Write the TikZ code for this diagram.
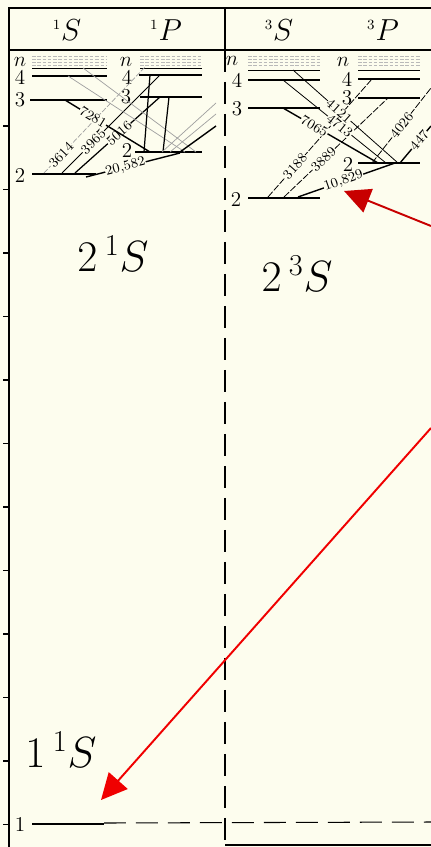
\documentclass[tikz,border=0pt]{standalone}
\usetikzlibrary{arrows.meta}
\definecolor{paper}{RGB}{253,253,238}
\definecolor{darkred}{RGB}{200,0,0}
\definecolor{hotred}{RGB}{240,0,0}

\begin{document}
\begin{tikzpicture}[x=0.02cm, y=-0.02cm,
  lev/.style={line width=1.6pt},
  midlev/.style={line width=0.9pt},
  thinlev/.style={line width=0.5pt},
  limit/.style={gray!55, line width=0.4pt, dash pattern=on 2pt off 1pt},
  trans/.style={line width=0.45pt},
  faint/.style={gray!75, line width=0.4pt},
  wl/.style={font=\fontsize{7.8}{7.8}\selectfont, fill=paper, inner sep=0.3pt, sloped},
  num/.style={font=\fontsize{12}{12}\selectfont, inner sep=0pt},
  head/.style={font=\fontsize{16}{16}\selectfont, inner sep=0pt},
  big/.style={font=\fontsize{33}{33}\selectfont, inner sep=0pt},
  pointer/.style={draw=#1, line width=1.1pt, -{Triangle[length=0.52cm, width=0.5cm, fill=#1]}}]

\useasboundingbox (0,0) rectangle (431,847);
\fill[paper] (0,0) rectangle (431,847);
\clip (0,0) rectangle (431,847);

% frame and columns
\draw[line width=0.8pt] (9,847) -- (9,8) -- (431,8);
\draw[line width=1.2pt] (9,50) -- (431,50);
\draw[line width=0.8pt] (225,8) -- (225,50);
\draw[line width=0.7pt, dash pattern=on 0.44cm off 0.2cm] (225,50) -- (225,847);
\draw[line width=1.2pt] (225,845) -- (431,845);
\foreach \k in {0,...,11}
  \draw[line width=0.6pt] (3,{126+63.5*\k}) -- (9,{126+63.5*\k});

% headings
\node[head] (hsS) at (67,30) {${}^{\scriptscriptstyle 1}S$};
\node[head] (hsP) at (166,30) {${}^{\scriptscriptstyle 1}P$};
\node[head] (htS) at (279,30) {${}^{\scriptscriptstyle 3}S$};
\node[head] (htP) at (383,30) {${}^{\scriptscriptstyle 3}P$};

% series limits
\foreach \xa/\xb in {32/107,140/202,248/320,358/420}
  \foreach \y in {56,59,62,65}
    \draw[limit] (\xa,\y) -- (\xb,\y);

% singlet levels
\node[num] (sSn) at (20,62) {$n$};
\node[num] (sS4) at (20,77) {4};
\node[num] (sS3) at (20,100) {3};
\node[num] (sS2) at (20,175) {2};
\node[num] (sS1) at (20,824) {1};
\draw[thinlev] (32,68) -- (107,68);
\draw[midlev] (32,76) -- (107,76);
\draw[lev] (30,100) -- (107,100);
\draw[lev] (32,174) -- (96,174);
\draw[lev] (32,824) -- (104,824);
\draw[line width=0.6pt, dash pattern=on 0.44cm off 0.2cm] (104,823) -- (431,822);

\node[num] (sPn) at (126,62) {$n$};
\node[num] (sP4) at (127,77) {4};
\node[num] (sP3) at (126,97) {3};
\node[num] (sP2) at (127,150) {2};
\draw[thinlev] (140,68) -- (202,68);
\draw[midlev] (139,75) -- (202,75);
\draw[lev] (140,97) -- (202,97);
\draw[lev] (135,152) -- (202,152);

% triplet levels
\node[num] (tSn) at (232,61) {$n$};
\node[num] (tS4) at (237,80) {4};
\node[num] (tS3) at (237,109) {3};
\node[num] (tS2) at (236,199) {2};
\draw[thinlev] (248,70) -- (320,70);
\draw[midlev] (248,80) -- (320,80);
\draw[lev] (248,108) -- (320,108);
\draw[lev] (248,198) -- (320,198);

\node[num] (tPn) at (343,62) {$n$};
\node[num] (tP4) at (347,79) {4};
\node[num] (tP3) at (347,98) {3};
\node[num] (tP2) at (348,164) {2};
\draw[thinlev] (358,70) -- (420,70);
\draw[midlev] (358,79) -- (420,79);
\draw[lev] (358,98) -- (420,98);
\draw[lev] (358,163) -- (420,163);

% singlet transitions
\coordinate (S2a) at (86,177);  \coordinate (P2a) at (180,153);
\coordinate (S2b) at (75,173);  \coordinate (P3a) at (160,97);
\coordinate (S2c) at (62,173);  \coordinate (P4a) at (160,75);
\coordinate (S2d) at (44,173);  \coordinate (P5a) at (145,67);
\coordinate (S3a) at (65,100);  \coordinate (P2b) at (150,152);
\coordinate (S4a) at (68,76);   \coordinate (P2c) at (185,152);
\coordinate (S5a) at (83,68);   \coordinate (P2d) at (196,152);
\coordinate (P4b) at (150,75);  \coordinate (P2e) at (144,152);
\coordinate (P3b) at (169,97);  \coordinate (P2f) at (163,152);
\coordinate (P2g) at (180,152); \coordinate (D1) at (216,126);
\coordinate (P2h) at (170,152); \coordinate (D2) at (216,114);
\coordinate (P2i) at (162,152); \coordinate (D3) at (216,103);

\draw[line width=0.8pt] (S2a) -- node[wl, pos=0.42] {20,582} (P2a);
\draw[line width=0.7pt] (S2b) -- node[wl, pos=0.52] {5016} (P3a);
\draw[trans] (S2c) -- node[wl, pos=0.32] {3965} (P4a);
\draw[faint, dash pattern=on 3pt off 1pt] (S2d) -- node[wl, text=black, pos=0.17] {3614} (P5a);
\draw[line width=0.8pt] (S3a) -- node[wl, pos=0.33] {7281} (P2b);
\draw[faint] (S4a) -- (P2c);
\draw[faint] (S5a) -- (P2d);
\draw[line width=0.7pt] (P4b) -- (P2e);
\draw[line width=0.7pt] (P3b) -- (P2f);
\draw[line width=0.8pt] (P2g) -- (D1);
\draw[faint] (P2h) -- (D2);
\draw[faint] (P2i) -- (D3);

% triplet transitions
\coordinate (T2a) at (298,197); \coordinate (Q2a) at (395,163);
\coordinate (T2b) at (284,197); \coordinate (Q3a) at (388,98);
\coordinate (T2c) at (268,197); \coordinate (Q4a) at (372,79);
\coordinate (T3a) at (283,108); \coordinate (Q2b) at (378,163);
\coordinate (T4a) at (283,80);  \coordinate (Q2c) at (386,163);
\coordinate (T5a) at (293,70);  \coordinate (Q2d) at (398,163);
\coordinate (Q2e) at (372,163); \coordinate (E1) at (431,88);
\coordinate (Q2f) at (400,163); \coordinate (E2) at (431,126);

\draw[line width=0.8pt] (T2a) -- node[wl, pos=0.47] (w10829) {10,829} (Q2a);
\draw[trans, dash pattern=on 4pt off 1pt] (T2b) -- node[wl, pos=0.38] {3889} (Q3a);
\draw[trans, dash pattern=on 4pt off 1pt] (T2c) -- node[wl, pos=0.26] {3188} (Q4a);
\draw[line width=0.8pt] (T3a) -- node[wl, pos=0.33] {7065} (Q2b);
\draw[trans] (T4a) -- node[wl, pos=0.55] {4713} (Q2c);
\draw[trans] (T5a) -- node[wl, pos=0.44] {4121} (Q2d);
\draw[trans, dash pattern=on 4pt off 1pt] (Q2e) -- node[wl, pos=0.5] {4026} (E1);
\draw[line width=0.8pt] (Q2f) -- node[wl, pos=0.62] {447} (E2);

% term labels
\node[big] (g21S) at (113,254) {$2\,{}^{\scriptscriptstyle 1}S$};
\node[big] (g23S) at (297,274) {$2\,{}^{\scriptscriptstyle 3}S$};
\node[big] (g11S) at (61,750) {$1\,{}^{\scriptscriptstyle 1}S$};

% pointers
\coordinate (srcA) at (431,226); \coordinate (tipA) at (344,191);
\coordinate (srcB) at (431,428); \coordinate (tipB) at (101,800);
\draw[pointer=darkred] (srcA) -- (tipA);
\draw[pointer=hotred] (srcB) -- (tipB);
\end{tikzpicture}
\end{document}
